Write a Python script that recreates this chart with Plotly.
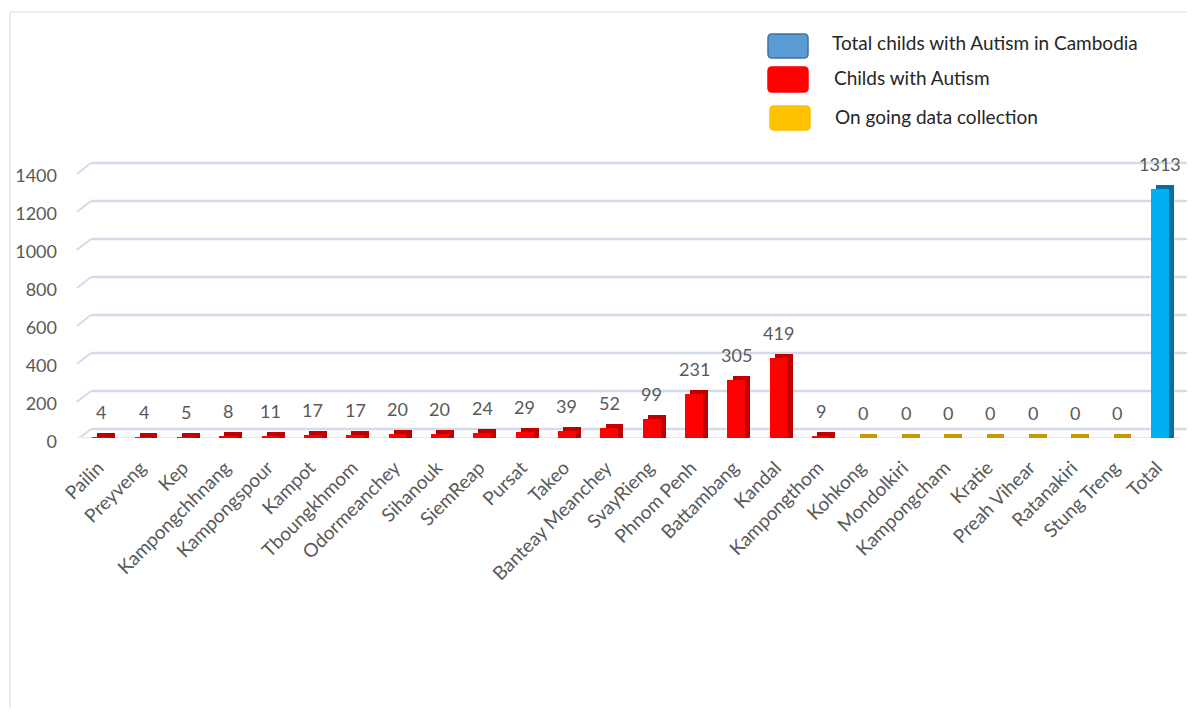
import plotly.graph_objects as go

provinces = ["Pailin", "Preyveng", "Kep", "Kampongchhnang", "Kampongspour", "Kampot",
             "Tboungkhmom", "Odormeanchey", "Sihanouk", "SiemReap", "Pursat", "Takeo",
             "Banteay Meanchey", "SvayRieng", "Phnom Penh", "Battambang", "Kandal",
             "Kampongthom", "Kohkong", "Mondolkiri", "Kampongcham", "Kratie",
             "Preah Vihear", "Ratanakiri", "Stung Treng", "Total"]
children = [4, 4, 5, 8, 11, 17, 17, 20, 20, 24, 29, 39, 52, 99, 231, 305, 419,
            9, 0, 0, 0, 0, 0, 0, 0, 1313]
status = ["autism"] * 18 + ["ongoing"] * 7 + ["total"]
y_ticks = [0, 200, 400, 600, 800, 1000, 1200, 1400]

front_col = {"autism": "#FF0000", "ongoing": "#FFC000", "total": "#00B0F0"}
side_col = {"autism": "#C00000", "ongoing": "#C89600", "total": "#00709C"}

OFF = 8                     # page body margin
W, H = 1179, 700
PX0, PX1, PY0, PY1 = 80, 1181, 160, 438   # plot area in window pixels
K = 0.19                    # px per data unit
YMAX = (PY1 - PY0) / K
depth = 4 / K               # top-face height in data units
back_shift = 9 / K          # back wall offset in data units

def px(x):
    return (x - PX0) / (PX1 - PX0)

def py(y):
    return (PY1 - y) / (PY1 - PY0)

def rounded_rect(x0, y0, x1, y1, r):
    # window-pixel box -> SVG path in paper coordinates
    X = lambda v: px(v)
    Y = lambda v: py(v)
    return (f"M {X(x0 + r)} {Y(y0)} L {X(x1 - r)} {Y(y0)} Q {X(x1)} {Y(y0)} {X(x1)} {Y(y0 + r)} "
            f"L {X(x1)} {Y(y1 - r)} Q {X(x1)} {Y(y1)} {X(x1 - r)} {Y(y1)} "
            f"L {X(x0 + r)} {Y(y1)} Q {X(x0)} {Y(y1)} {X(x0)} {Y(y1 - r)} "
            f"L {X(x0)} {Y(y0 + r)} Q {X(x0)} {Y(y0)} {X(x0 + r)} {Y(y0)} Z")

fig = go.Figure()
# side / top face
fig.add_trace(go.Bar(
    x=provinces, y=[v + depth for v in children],
    marker=dict(color=[side_col[s] for s in status], line=dict(width=0)),
    width=0.42, offset=-0.21 + 0.12, hoverinfo="skip", showlegend=False))
# front face
fig.add_trace(go.Bar(
    x=provinces, y=children,
    marker=dict(color=[front_col[s] for s in status], line=dict(width=0)),
    width=0.42, offset=-0.21, showlegend=False))

for p, v in zip(provinces, children):
    fig.add_annotation(x=p, y=v, text=str(v), showarrow=False, yanchor="bottom",
                       yshift=12, font=dict(size=18, color="#595959", family="Lato"))

# back-wall gridlines and left stubs
for v in y_ticks:
    fig.add_shape(type="line", xref="paper", yref="y", layer="below",
                  x0=px(91), x1=px(1192), y0=v + back_shift, y1=v + back_shift,
                  line=dict(color="#D3DCE8", width=2.5))
    fig.add_shape(type="line", xref="paper", yref="y", layer="below",
                  x0=px(77), x1=px(91), y0=v - 10, y1=v + back_shift,
                  line=dict(color="#D3DCE8", width=2))
# front base edge
fig.add_shape(type="line", xref="paper", yref="y", layer="below",
              x0=px(80), x1=px(1181), y0=0, y1=0,
              line=dict(color="#E3E9F1", width=2))

# outer border
fig.add_shape(type="rect", xref="paper", yref="paper",
              x0=px(10), x1=px(1194), y0=py(760), y1=py(12),
              line=dict(color="#D9D9D9", width=1), fillcolor="rgba(0,0,0,0)", layer="below")

# custom legend
legend_items = [
    ("Total childs with Autism in Cambodia", "#5B9BD5", "#41719C", 768, 34, 58, 830, 43),
    ("Childs with Autism", "#FF0000", "#FF0000", 768, 67, 92, 832, 77),
    ("On going data collection", "#FFC000", "#FFC000", 770, 106, 130, 833, 116),
]
for txt, fc, lc, bx, by0, by1, tx, ty in legend_items:
    fig.add_shape(type="path", xref="paper", yref="paper",
                  path=rounded_rect(bx, by0, bx + 40, by1, 4),
                  fillcolor=fc, line=dict(color=lc, width=1.5))
    fig.add_annotation(xref="paper", yref="paper", x=px(tx), y=py(ty), text=txt,
                       showarrow=False, xanchor="left", yanchor="middle",
                       font=dict(size=19, color="#262626", family="Lato"))

fig.update_layout(
    width=W, height=H,
    margin=dict(l=PX0 - OFF, r=W - (PX1 - OFF), t=PY0 - OFF, b=H - (PY1 - OFF),
                autoexpand=False),
    paper_bgcolor="white", plot_bgcolor="rgba(0,0,0,0)",
    barmode="overlay", bargap=0,
    font=dict(family="Lato", color="#595959"),
    xaxis=dict(range=[-0.5, len(provinces) - 0.5], tickangle=-45,
               tickfont=dict(size=19, color="#595959"), showgrid=False,
               showline=False, ticks="", ticklabelstandoff=14, ticklabelshift=-3,
               automargin=False),
    yaxis=dict(range=[0, YMAX], tickvals=y_ticks,
               tickfont=dict(size=18, color="#595959"), showgrid=False,
               zeroline=False, ticks="", ticklabelstandoff=22, ticklabelshift=4,
               automargin=False),
)

fig.write_html("out.html")
